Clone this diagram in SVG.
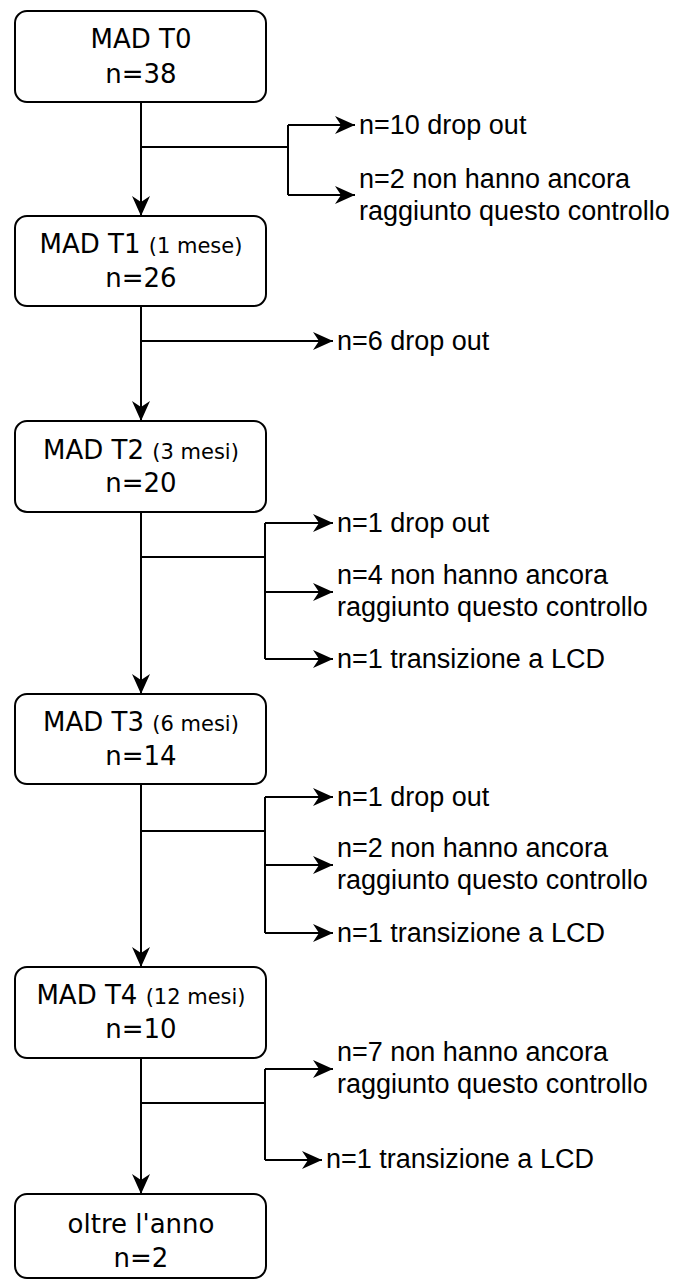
<svg xmlns="http://www.w3.org/2000/svg" width="678" height="1281" viewBox="0 0 678 1281">
  <defs>
    <marker id="arrow" markerUnits="userSpaceOnUse" markerWidth="24" markerHeight="22" viewBox="-22 -11 24 22" refX="0" refY="0" orient="auto">
      <path d="M0,0 L-20,-9 L-14,0 L-20,9 Z" fill="#000"/>
    </marker>
    <style>
      .box { fill: #fff; stroke: #000; stroke-width: 2; }
      .title { font-family: "DejaVu Sans", Verdana, sans-serif; font-size: 26px; fill: #000; text-anchor: middle; }
      .sub { font-size: 21px; }
      .lbl { font-family: "Liberation Sans", Arial, sans-serif; font-size: 27px; fill: #000; }
      .wire { fill: none; stroke: #000; stroke-width: 2; }
      .arr { fill: none; stroke: #000; stroke-width: 2; marker-end: url(#arrow); }
    </style>
  </defs>
  <rect width="678" height="1281" fill="#fff"/>

  <!-- connectors -->
  <g id="connectors">
    <!-- T0 -> T1 -->
    <line class="arr" x1="141" y1="102" x2="141" y2="216"/>
    <path class="wire" d="M141,147 H288 M288,125 V195"/>
    <line class="arr" x1="288" y1="125" x2="355" y2="125"/>
    <line class="arr" x1="288" y1="195" x2="355" y2="195"/>
    <!-- T1 -> T2 -->
    <line class="arr" x1="141" y1="306" x2="141" y2="421"/>
    <line class="arr" x1="141" y1="341" x2="333" y2="341"/>
    <!-- T2 -> T3 -->
    <line class="arr" x1="141" y1="512" x2="141" y2="694"/>
    <path class="wire" d="M141,557 H265 M265,523 V659"/>
    <line class="arr" x1="265" y1="523" x2="333" y2="523"/>
    <line class="arr" x1="265" y1="592" x2="333" y2="592"/>
    <line class="arr" x1="265" y1="659" x2="333" y2="659"/>
    <!-- T3 -> T4 -->
    <line class="arr" x1="141" y1="784" x2="141" y2="967"/>
    <path class="wire" d="M141,831 H265 M265,797 V933"/>
    <line class="arr" x1="265" y1="797" x2="333" y2="797"/>
    <line class="arr" x1="265" y1="865" x2="333" y2="865"/>
    <line class="arr" x1="265" y1="933" x2="333" y2="933"/>
    <!-- T4 -> beyond one year -->
    <line class="arr" x1="141" y1="1058" x2="141" y2="1194"/>
    <path class="wire" d="M141,1103 H265 M265,1069 V1160"/>
    <line class="arr" x1="265" y1="1069" x2="333" y2="1069"/>
    <line class="arr" x1="265" y1="1160" x2="322" y2="1160"/>
  </g>

  <!-- side outcome labels -->
  <g id="labels">
    <text class="lbl" x="359" y="134">n=10 drop out</text>
    <text class="lbl" x="359" y="188">n=2 non hanno ancora</text>
    <text class="lbl" x="359" y="220">raggiunto questo controllo</text>

    <text class="lbl" x="337" y="350">n=6 drop out</text>

    <text class="lbl" x="337" y="532">n=1 drop out</text>
    <text class="lbl" x="337" y="584">n=4 non hanno ancora</text>
    <text class="lbl" x="337" y="616">raggiunto questo controllo</text>
    <text class="lbl" x="337" y="668">n=1 transizione a LCD</text>

    <text class="lbl" x="337" y="806">n=1 drop out</text>
    <text class="lbl" x="337" y="857">n=2 non hanno ancora</text>
    <text class="lbl" x="337" y="889">raggiunto questo controllo</text>
    <text class="lbl" x="337" y="942">n=1 transizione a LCD</text>

    <text class="lbl" x="337" y="1061">n=7 non hanno ancora</text>
    <text class="lbl" x="337" y="1093">raggiunto questo controllo</text>
    <text class="lbl" x="326" y="1168">n=1 transizione a LCD</text>
  </g>

  <g id="t0">
    <rect class="box" x="15" y="11" width="251" height="91" rx="12"/>
    <text class="title" x="141" y="48">MAD T0</text>
    <text class="title" x="141" y="83">n=38</text>
  </g>
  <g id="t1">
    <rect class="box" x="15" y="216" width="251" height="90" rx="12"/>
    <text class="title" x="141" y="253">MAD T1 <tspan class="sub">(1 mese)</tspan></text>
    <text class="title" x="141" y="287">n=26</text>
  </g>
  <g id="t2">
    <rect class="box" x="15" y="421" width="251" height="91" rx="12"/>
    <text class="title" x="141" y="459">MAD T2 <tspan class="sub">(3 mesi)</tspan></text>
    <text class="title" x="141" y="492">n=20</text>
  </g>
  <g id="t3">
    <rect class="box" x="15" y="694" width="251" height="90" rx="12"/>
    <text class="title" x="141" y="731">MAD T3 <tspan class="sub">(6 mesi)</tspan></text>
    <text class="title" x="141" y="765">n=14</text>
  </g>
  <g id="t4">
    <rect class="box" x="15" y="967" width="251" height="91" rx="12"/>
    <text class="title" x="141" y="1004">MAD T4 <tspan class="sub">(12 mesi)</tspan></text>
    <text class="title" x="141" y="1038">n=10</text>
  </g>
  <g id="beyond">
    <rect class="box" x="15" y="1194" width="251" height="84" rx="12"/>
    <text class="title" x="141" y="1233">oltre l'anno</text>
    <text class="title" x="141" y="1267">n=2</text>
  </g>
</svg>
